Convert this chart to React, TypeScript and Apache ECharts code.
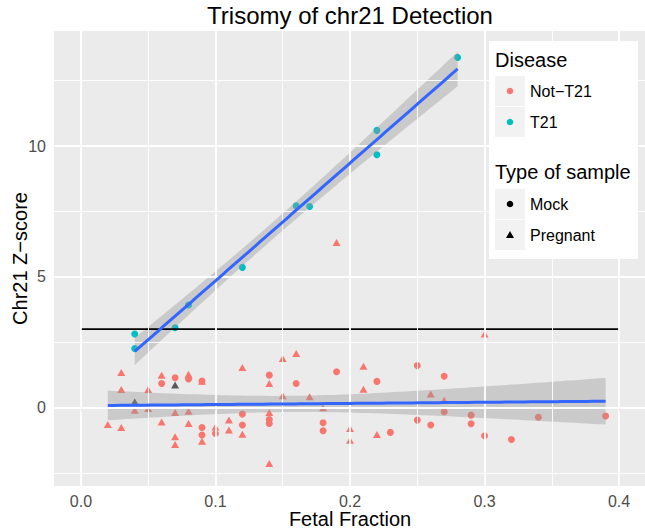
import React, { useEffect, useRef } from "react";
import * as echarts from "echarts";

// ---------- data ----------
const notT21MockX = [0.06, 0.07, 0.08, 0.09, 0.09, 0.09, 0.10, 0.12, 0.12, 0.14, 0.14, 0.14, 0.16, 0.18, 0.18, 0.19, 0.22, 0.23, 0.25, 0.25, 0.26, 0.27, 0.27, 0.29, 0.29, 0.30, 0.32, 0.34, 0.39];
const notT21MockY = [0.92, 1.14, 1.09, 1.01, -0.76, -1.05, -0.99, -0.25, -0.67, 1.24, -0.46, -0.61, 0.92, -0.58, -0.89, 1.37, 1.00, -0.95, 1.61, -0.48, -0.67, 1.20, -0.16, -0.29, -0.62, -1.08, -1.22, -0.37, -0.32];

const notT21PregX = [0.02, 0.03, 0.03, 0.03, 0.04, 0.05, 0.05, 0.06, 0.06, 0.07, 0.07, 0.07, 0.08, 0.08, 0.08, 0.09, 0.09, 0.10, 0.11, 0.11, 0.12, 0.12, 0.14, 0.14, 0.14, 0.15, 0.15, 0.16, 0.17, 0.18, 0.19, 0.20, 0.20, 0.21, 0.21, 0.22, 0.26, 0.27, 0.30];
const notT21PregY = [-0.65, 1.34, 0.69, -0.76, -0.10, 0.69, -0.04, 1.24, -0.55, -0.19, -1.12, -1.41, 1.27, -0.14, -0.61, 1.01, -1.29, -0.74, -0.48, -0.86, 1.53, -1.02, 0.92, -0.19, -2.14, 1.88, 0.45, 2.07, 0.41, -0.01, 6.31, -0.80, -1.25, 1.58, 0.70, -1.03, 0.52, 0.28, 2.81];

const grayPregX = [0.04, 0.07];
const grayPregY = [0.22, 0.86];

const t21MockX = [0.04, 0.04, 0.07, 0.08, 0.12, 0.16, 0.17, 0.22, 0.22, 0.28];
const t21MockY = [2.81, 2.26, 3.05, 3.92, 5.36, 7.72, 7.69, 10.60, 9.67, 13.39];

const thresholdX = [0, 0.4];
const thresholdY = [3, 3];

const xTicks = [0, 0.1, 0.2, 0.3, 0.4];
const xMinor = [0.05, 0.15, 0.25, 0.35];
const yTicks = [0, 5, 10];
const yMinor = [-2.5, 2.5, 7.5, 12.5];

const diseaseLabels = ["Not\u2212T21", "T21"];
const sampleLabels = ["Mock", "Pregnant"];

// ---------- helpers ----------
const RED = "#F8766D";
const TEAL = "#00BFC4";
const GRAYPT = "#595959";
const FONT = '"Liberation Sans", Arial, Helvetica, sans-serif';

function zip(xs: number[], ys: number[]) {
  return xs.map((x, i) => [x, ys[i]]);
}

function tq975(df: number) {
  const z = 1.959964;
  const g1 = (z ** 3 + z) / 4;
  const g2 = (5 * z ** 5 + 16 * z ** 3 + 3 * z) / 96;
  const g3 = (3 * z ** 7 + 19 * z ** 5 + 17 * z ** 3 - 15 * z) / 384;
  return z + g1 / df + g2 / df ** 2 + g3 / df ** 3;
}

function fitLm(xs: number[], ys: number[], steps = 80) {
  const n = xs.length;
  const mx = xs.reduce((a, b) => a + b, 0) / n;
  const my = ys.reduce((a, b) => a + b, 0) / n;
  let sxx = 0, sxy = 0;
  for (let i = 0; i < n; i++) {
    sxx += (xs[i] - mx) ** 2;
    sxy += (xs[i] - mx) * (ys[i] - my);
  }
  const b = sxy / sxx;
  const a = my - b * mx;
  let sse = 0;
  for (let i = 0; i < n; i++) sse += (ys[i] - a - b * xs[i]) ** 2;
  const s = Math.sqrt(sse / (n - 2));
  const t = tq975(n - 2);
  const x0 = Math.min(...xs);
  const x1 = Math.max(...xs);
  const line: number[][] = [];
  const lo: number[][] = [];
  const hi: number[][] = [];
  for (let k = 0; k <= steps; k++) {
    const x = x0 + ((x1 - x0) * k) / steps;
    const yh = a + b * x;
    const se = s * Math.sqrt(1 / n + (x - mx) ** 2 / sxx);
    line.push([x, yh]);
    lo.push([x, yh - t * se]);
    hi.push([x, yh + t * se]);
  }
  return { line, lo, hi };
}

function bandSeries(fit: { lo: number[][]; hi: number[][] }) {
  return {
    type: "custom",
    silent: true,
    data: [fit.lo[0]],
    renderItem: (_p: any, api: any) => {
      const pts = fit.lo.map((d) => api.coord(d)).concat(
        fit.hi.slice().reverse().map((d) => api.coord(d))
      );
      return {
        type: "polygon",
        shape: { points: pts },
        style: { fill: "rgba(153,153,153,0.4)", stroke: "none" },
      };
    },
    z: 3,
  };
}

export default function App() {
  const ref = useRef<HTMLDivElement>(null);

  useEffect(() => {
    document.body.style.margin = "0";
    if (!ref.current) return;
    const chart = echarts.init(ref.current, null, { renderer: "svg" });

    const notX = notT21MockX.concat(notT21PregX);
    const notY = notT21MockY.concat(notT21PregY);
    const fitNot = fitLm(notX, notY);
    const fitT21 = fitLm(t21MockX, t21MockY);

    const gridLines = [
      ...xTicks.map((v) => ({ xAxis: v, lineStyle: { width: 1.8 } })),
      ...xMinor.map((v) => ({ xAxis: v, lineStyle: { width: 0.9 } })),
      ...yTicks.map((v) => ({ yAxis: v, lineStyle: { width: 1.8 } })),
      ...yMinor.map((v) => ({ yAxis: v, lineStyle: { width: 0.9 } })),
    ];

    const txt = (text: string, x: number, y: number, size: number, extra: any = {}) => ({
      type: "text",
      x,
      y,
      style: {
        text,
        fontFamily: FONT,
        fontSize: size,
        fill: "#000",
        textVerticalAlign: "middle",
        verticalAlign: "middle",
        ...extra,
      },
      z: 100,
    });
    const keyBox = (y: number) => ({
      type: "rect",
      shape: { x: 495, y, width: 30, height: 30 },
      style: { fill: "#F2F2F2", stroke: "none" },
      z: 100,
    });

    const graphic: any[] = [
      txt("Trisomy of chr21 Detection", 350, 15, 24, { textAlign: "center", align: "center" }),
      {
        type: "rect",
        shape: { x: 489, y: 41, width: 149, height: 218 },
        style: { fill: "#FFFFFF", stroke: "none" },
        z: 99,
      },
      txt("Disease", 495, 60, 20),
      keyBox(76),
      keyBox(107),
      { type: "circle", shape: { cx: 510, cy: 91, r: 3.3 }, style: { fill: RED }, z: 101 },
      { type: "circle", shape: { cx: 510, cy: 122, r: 3.3 }, style: { fill: TEAL }, z: 101 },
      txt(diseaseLabels[0], 530, 91, 16),
      txt(diseaseLabels[1], 530, 122, 16),
      txt("Type of sample", 495, 172, 20),
      keyBox(189),
      keyBox(220),
      { type: "circle", shape: { cx: 510, cy: 204, r: 3.3 }, style: { fill: "#000" }, z: 101 },
      {
        type: "polygon",
        shape: { points: [[510, 231], [514, 238], [506, 238]] },
        style: { fill: "#000" },
        z: 101,
      },
      txt(sampleLabels[0], 530, 204, 16),
      txt(sampleLabels[1], 530, 235, 16),
    ];

    chart.setOption({
      animation: false,
      grid: {
        left: 54,
        top: 31,
        width: 592,
        height: 455,
        show: true,
        backgroundColor: "#EBEBEB",
        borderWidth: 0,
        containLabel: false,
        outerBoundsMode: "none",
      },
      xAxis: {
        type: "value",
        min: -0.02,
        max: 0.42,
        name: "Fetal Fraction",
        nameLocation: "middle",
        nameGap: 23,
        nameMoveOverlap: false,
        nameTextStyle: { fontFamily: FONT, fontSize: 20, color: "#000" },
        axisLine: { show: false },
        splitLine: { show: false },
        axisTick: {
          show: true,
          length: 4,
          lineStyle: { color: "#333333", width: 1 },
          customValues: xTicks,
        },
        axisLabel: {
          customValues: xTicks,
          formatter: (v: number) => v.toFixed(1),
          color: "#4D4D4D",
          fontFamily: FONT,
          fontSize: 16,
          margin: 7,
        },
      },
      yAxis: {
        type: "value",
        min: -3.0,
        max: 14.4,
        name: "Chr21 Z\u2212score",
        nameLocation: "middle",
        nameGap: 24,
        nameMoveOverlap: false,
        nameRotate: 90,
        nameTextStyle: { fontFamily: FONT, fontSize: 20, color: "#000" },
        axisLine: { show: false },
        splitLine: { show: false },
        axisTick: {
          show: true,
          length: 4,
          lineStyle: { color: "#333333", width: 1 },
          customValues: yTicks,
        },
        axisLabel: {
          customValues: yTicks,
          color: "#4D4D4D",
          fontFamily: FONT,
          fontSize: 16,
          margin: 8,
        },
      },
      graphic,
      series: [
        {
          type: "line",
          data: [],
          silent: true,
          z: 0,
          markLine: {
            silent: true,
            symbol: ["none", "none"],
            label: { show: false },
            lineStyle: { color: "#FFFFFF", type: "solid" },
            emphasis: { disabled: true },
            data: gridLines,
          },
        },
        {
          type: "scatter",
          name: "NotMock",
          data: zip(notT21MockX, notT21MockY),
          symbol: "circle",
          symbolSize: 7,
          itemStyle: { color: RED, opacity: 1 },
          z: 2,
        },
        {
          type: "scatter",
          name: "NotPreg",
          data: zip(notT21PregX, notT21PregY),
          symbol: "triangle",
          symbolSize: [8, 7],
          itemStyle: { color: RED, opacity: 1 },
          z: 2,
        },
        {
          type: "scatter",
          name: "GrayPreg",
          data: zip(grayPregX, grayPregY),
          symbol: "triangle",
          symbolSize: [8, 7],
          itemStyle: { color: GRAYPT, opacity: 1 },
          z: 2,
        },
        {
          type: "scatter",
          name: "T21Mock",
          data: zip(t21MockX, t21MockY),
          symbol: "circle",
          symbolSize: 7,
          itemStyle: { color: TEAL, opacity: 1 },
          z: 2,
        },
        bandSeries(fitNot),
        bandSeries(fitT21),
        {
          type: "line",
          data: zip(thresholdX, thresholdY),
          symbol: "none",
          lineStyle: { color: "#000", width: 1.7 },
          z: 4,
          silent: true,
        },
        {
          type: "line",
          data: fitNot.line,
          symbol: "none",
          lineStyle: { color: "#3366FF", width: 3 },
          z: 5,
          silent: true,
        },
        {
          type: "line",
          data: fitT21.line,
          symbol: "none",
          lineStyle: { color: "#3366FF", width: 3 },
          z: 5,
          silent: true,
        },
      ],
    });

    return () => chart.dispose();
  }, []);

  return <div ref={ref} style={{ width: 645, height: 531 }} />;
}
